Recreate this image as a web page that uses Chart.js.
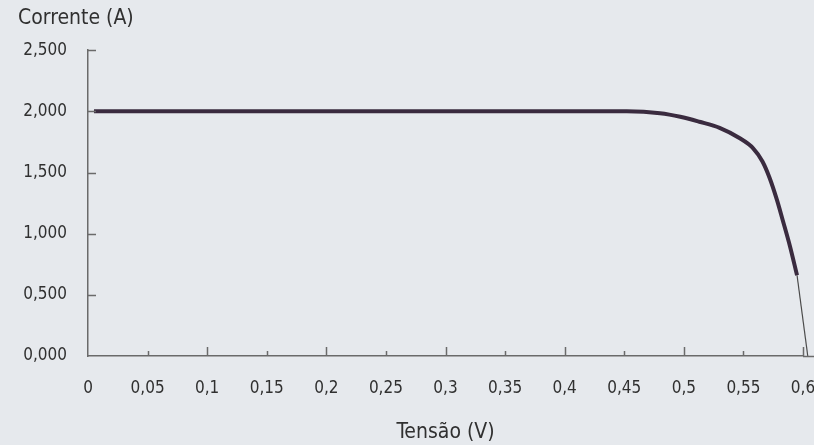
<!DOCTYPE html>
<html>
<head>
<meta charset="utf-8">
<script src="https://cdn.jsdelivr.net/npm/chart.js@4"></script>
<style>
  html, body { margin: 0; padding: 0; background: #e6e9ed; overflow: hidden; }
  #wrap { width: 830px; height: 445px; }
</style>
</head>
<body>
<div id="wrap"><canvas id="ivChart"></canvas></div>
<script>
// curva I-V
const voltage = [0.005, 0.1, 0.2, 0.3, 0.4, 0.452, 0.48, 0.497, 0.513, 0.53, 0.547, 0.558, 0.566, 0.572, 0.578, 0.583, 0.589, 0.595];
const current = [2.0, 2.0, 2.0, 2.0, 2.0, 2.0, 1.985, 1.956, 1.915, 1.865, 1.78, 1.70, 1.59, 1.455, 1.28, 1.11, 0.90, 0.66];
// trecho fino até a tensão de circuito aberto
const tailVoltage = [0.595, 0.604];
const tailCurrent = [0.66, 0.0];

const xTickLabels = ['0', '0,05', '0,1', '0,15', '0,2', '0,25', '0,3', '0,35', '0,4', '0,45', '0,5', '0,55', '0,6'];
const yTickLabels = ['0,000', '0,500', '1,000', '1,500', '2,000', '2,500'];

const FONT = "'DejaVu Sans Condensed', 'DejaVu Sans', sans-serif";
const TEXT = '#303030';
const AXIS = '#6a6a6a';

const toPoints = (xs, ys) => xs.map((v, i) => ({ x: v, y: ys[i] }));

// marcas de escala voltadas para dentro
const innerTicks = {
    id: 'innerTicks',
    afterDraw(chart) {
        const { ctx, chartArea, scales } = chart;
        ctx.save();
        ctx.strokeStyle = AXIS;
        ctx.lineWidth = 1.5;
        scales.x.ticks.forEach((t, i) => {
            if (i === 0) return;
            const px = Math.round(scales.x.getPixelForValue(t.value)) + 0.5;
            const len = i % 2 === 0 ? 9 : 5;
            ctx.beginPath();
            ctx.moveTo(px, chartArea.bottom);
            ctx.lineTo(px, chartArea.bottom - len);
            ctx.stroke();
        });
        scales.y.ticks.forEach((t, i) => {
            if (i === 0) return;
            const py = Math.round(scales.y.getPixelForValue(t.value)) + 0.5;
            ctx.beginPath();
            ctx.moveTo(chartArea.left, py);
            ctx.lineTo(chartArea.left + 8, py);
            ctx.stroke();
        });
        // eixo x prolongado para a direita
        ctx.beginPath();
        ctx.moveTo(chartArea.right, chartArea.bottom + 0.5);
        ctx.lineTo(chart.width, chartArea.bottom + 0.5);
        ctx.stroke();
        ctx.restore();
    }
};

const ctx = document.getElementById('ivChart').getContext('2d');
new Chart(ctx, {
    type: 'line',
    data: {
        datasets: [
            {
                data: toPoints(voltage, current),
                borderColor: '#3a2b3f',
                borderWidth: 4,
                pointRadius: 0,
                cubicInterpolationMode: 'monotone',
                clip: false
            },
            {
                data: toPoints(tailVoltage, tailCurrent),
                borderColor: '#4a4a4a',
                borderWidth: 1.2,
                pointRadius: 0,
                clip: false
            }
        ]
    },
    options: {
        responsive: true,
        maintainAspectRatio: false,
        animation: false,
        layout: { padding: { left: 18, right: 27, top: 0, bottom: 0 } },
        plugins: {
            legend: { display: false },
            tooltip: { enabled: false },
            title: {
                display: true,
                text: 'Corrente (A)',
                align: 'start',
                color: TEXT,
                font: { family: FONT, size: 21, weight: 'normal' },
                padding: { top: 6, bottom: 19 }
            }
        },
        scales: {
            x: {
                type: 'linear',
                min: 0,
                max: 0.6,
                grid: { display: false, drawTicks: false },
                border: { color: AXIS, width: 1.5 },
                afterFit: (scale) => {
                    scale.height = 89;
                    scale.paddingLeft = 0;
                    scale.paddingRight = 0;
                },
                ticks: {
                    stepSize: 0.05,
                    padding: 22,
                    color: TEXT,
                    font: { family: FONT, size: 17 },
                    maxRotation: 0,
                    autoSkip: false,
                    callback: (v, i) => xTickLabels[i]
                },
                title: {
                    display: true,
                    text: 'Tensão (V)',
                    color: TEXT,
                    font: { family: FONT, size: 21 },
                    padding: { top: 0, bottom: 0 }
                }
            },
            y: {
                type: 'linear',
                min: 0,
                max: 2.5,
                grid: { display: false, drawTicks: false },
                border: { color: AXIS, width: 1.5 },
                afterFit: (scale) => { scale.width = 70; },
                ticks: {
                    stepSize: 0.5,
                    padding: 21,
                    color: TEXT,
                    font: { family: FONT, size: 17 },
                    callback: (v, i) => yTickLabels[i]
                }
            }
        }
    },
    plugins: [innerTicks]
});
</script>
</body>
</html>
